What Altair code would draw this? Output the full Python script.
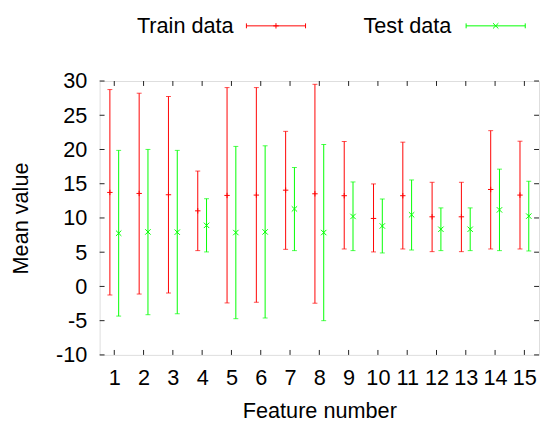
import altair as alt
import pandas as pd

features = list(range(1, 16))
series_names = ["Train data", "Test data"]
series_colors = ["#ff0000", "#00ff00"]

train_mean = [13.73, 13.58, 13.39, 11.04, 13.29, 13.34, 14.06, 13.53, 13.25, 9.93, 13.25, 10.17, 10.17, 14.16, 13.34]
train_low = [-1.25, -1.11, -0.96, 5.23, -2.41, -2.31, 5.42, -2.45, 5.47, 5.04, 5.47, 5.08, 5.08, 5.47, 5.47]
train_high = [28.75, 28.22, 27.74, 16.85, 29.04, 29.04, 22.65, 29.52, 21.17, 14.97, 21.07, 15.21, 15.21, 22.75, 21.21]

test_mean = [7.77, 7.96, 7.92, 8.92, 7.87, 7.96, 11.32, 7.87, 10.22, 8.83, 10.46, 8.35, 8.35, 11.18, 10.27]
test_low = [-4.33, -4.13, -3.99, 5.04, -4.71, -4.61, 5.23, -5.0, 5.23, 4.89, 5.32, 5.23, 5.23, 5.23, 5.18]
test_high = [19.87, 20.01, 19.87, 12.81, 20.45, 20.54, 17.37, 20.73, 15.26, 12.77, 15.55, 11.47, 11.47, 17.13, 15.36]

y_ticks = [-10, -5, 0, 5, 10, 15, 20, 25, 30]

W, H = 446, 278
FONT = "Liberation Sans"
FS = 22

PLUS = "M-1,0L1,0M0,-1L0,1"
CROSS = "M-1,-1L1,1M-1,1L1,-1"

rows = []
for f, m, lo, hi in zip(features, train_mean, train_low, train_high):
    rows.append({"feature": f, "series": series_names[0], "mean": m, "low": lo, "high": hi, "off": -0.15})
for f, m, lo, hi in zip(features, test_mean, test_low, test_high):
    rows.append({"feature": f, "series": series_names[1], "mean": m, "low": lo, "high": hi, "off": 0.15})
df = pd.DataFrame(rows)

xscale = alt.Scale(domain=[0.5, 15.5], nice=False, zero=False)
yscale = alt.Scale(domain=[-10, 30], nice=False, zero=False)
cscale = alt.Scale(domain=series_names, range=series_colors)
sscale = alt.Scale(domain=series_names, range=[PLUS, CROSS])

xaxis = alt.Axis(
    values=features, title="Feature number", ticks=False, domain=False, grid=False,
    labelFontSize=FS, labelPadding=13, labelColor="black", labelFont=FONT,
    labelOverlap=False, labelBound=False, labelFlush=False, labelExpr="'' + datum.value",
    titleFontSize=FS, titleFontWeight="normal", titleFont=FONT, titleColor="black",
    titleY=57, titleBaseline="middle")
yaxis = alt.Axis(
    values=y_ticks, title="Mean value", ticks=False, domain=False, grid=False,
    labelFontSize=FS, labelPadding=13, labelColor="black", labelFont=FONT,
    labelOverlap=False, labelBound=False, labelFlush=False, labelExpr="'' + datum.value",
    titleFontSize=FS, titleFontWeight="normal", titleFont=FONT, titleColor="black",
    titleX=-80, titleY=H / 2, titleAngle=-90, titleAlign="center", titleBaseline="middle")

base = alt.Chart(df).transform_calculate(xpos="datum.feature + datum.off")
color = alt.Color("series:N", scale=cscale, legend=None)
xs = alt.X("xpos:Q", scale=xscale, axis=xaxis)

bars = base.mark_rule(strokeWidth=1).encode(
    x=xs, y=alt.Y("low:Q", scale=yscale, axis=yaxis), y2="high:Q", color=color)
cap_hi = base.mark_tick(orient="horizontal", size=5, thickness=1).encode(
    x=xs, y=alt.Y("high:Q", scale=yscale, axis=yaxis), color=color)
cap_lo = base.mark_tick(orient="horizontal", size=5, thickness=1).encode(
    x=xs, y=alt.Y("low:Q", scale=yscale, axis=yaxis), color=color)
centers = base.mark_point(filled=False, strokeWidth=1, size=30, opacity=1).encode(
    x=xs, y=alt.Y("mean:Q", scale=yscale, axis=yaxis),
    color=color, shape=alt.Shape("series:N", scale=sscale, legend=None))

# inward axis ticks (gnuplot style, mirrored on all sides)
xt = alt.Chart(pd.DataFrame({"v": features}))
yt = alt.Chart(pd.DataFrame({"v": y_ticks}))
tk = dict(color="#222", strokeWidth=1)
xv = alt.X("v:Q", scale=xscale, axis=xaxis)
yv = alt.Y("v:Q", scale=yscale, axis=yaxis)
t_bottom = xt.mark_rule(**tk).encode(x=xv, y=alt.value(H), y2=alt.value(H - 5))
t_top = xt.mark_rule(**tk).encode(x=xv, y=alt.value(0), y2=alt.value(5))
t_left = yt.mark_rule(**tk).encode(y=yv, x=alt.value(0), x2=alt.value(5))
t_right = yt.mark_rule(**tk).encode(y=yv, x=alt.value(W), x2=alt.value(W - 5))

# legend (gnuplot-like key above the plot)
legend_layers = []
LY = -56
key_specs = [(series_names[0], series_colors[0], PLUS, 136, 149, 209),
             (series_names[1], series_colors[1], CROSS, 357, 372, 432)]
for name, col, shp, tx, a, b in key_specs:
    ld = alt.Chart(pd.DataFrame({"t": [name]}))
    legend_layers.append(ld.mark_text(align="right", baseline="middle", fontSize=FS, font=FONT, color="black")
                         .encode(x=alt.value(tx), y=alt.value(LY), text="t:N"))
    legend_layers.append(ld.mark_rule(color=col, strokeWidth=1).encode(x=alt.value(a), x2=alt.value(b), y=alt.value(LY)))
    legend_layers.append(ld.mark_rule(color=col, strokeWidth=1).encode(x=alt.value(a), y=alt.value(LY - 2.5), y2=alt.value(LY + 2.5)))
    legend_layers.append(ld.mark_rule(color=col, strokeWidth=1).encode(x=alt.value(b), y=alt.value(LY - 2.5), y2=alt.value(LY + 2.5)))
    legend_layers.append(ld.mark_point(filled=False, strokeWidth=1, size=30, opacity=1, color=col, shape=shp)
                         .encode(x=alt.value((a + b) / 2), y=alt.value(LY)))

chart = alt.layer(
    bars, cap_hi, cap_lo, centers, t_bottom, t_top, t_left, t_right, *legend_layers
).properties(
    width=W, height=H,
    autosize=alt.AutoSizeParams(type="none"),
    padding={"left": 93, "top": 71, "right": 2, "bottom": 66},
).configure_view(stroke="#222", strokeWidth=1.3).configure_axis(
    labelOverlap=False, labelBound=False, labelFlush=False
).configure(font=FONT, background="white")

chart.save("out.html", embed_options={"renderer": "svg", "actions": False})
